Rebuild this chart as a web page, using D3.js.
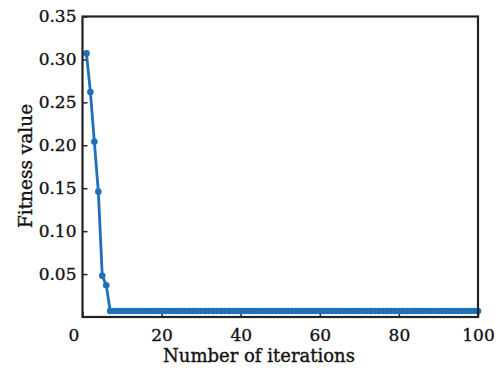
<!DOCTYPE html>
<html>
<head>
  <meta charset="UTF-8">
  <title>Fitness curve</title>
  <style>
    body { margin: 0; background: #fff; }
    svg { display: block; }
    text { font-family: "DejaVu Serif", serif; fill: #111; stroke: #111; stroke-width: 0.35px; }
  </style>
</head>
<body>
<svg></svg>
<script src="https://d3js.org/d3.v7.min.js"></script>
<script>

let width = 496, height = 373;

// iterations 1..100 and the fitness
const iterations = d3.range(1, 101);
const fitness = [
  0.307, 0.262, 0.204, 0.146, 0.048, 0.037, 0.007, 0.007, 0.007, 0.007,
  0.007, 0.007, 0.007, 0.007, 0.007, 0.007, 0.007, 0.007, 0.007, 0.007,
  0.007, 0.007, 0.007, 0.007, 0.007, 0.007, 0.007, 0.007, 0.007, 0.007,
  0.007, 0.007, 0.007, 0.007, 0.007, 0.007, 0.007, 0.007, 0.007, 0.007,
  0.007, 0.007, 0.007, 0.007, 0.007, 0.007, 0.007, 0.007, 0.007, 0.007,
  0.007, 0.007, 0.007, 0.007, 0.007, 0.007, 0.007, 0.007, 0.007, 0.007,
  0.007, 0.007, 0.007, 0.007, 0.007, 0.007, 0.007, 0.007, 0.007, 0.007,
  0.007, 0.007, 0.007, 0.007, 0.007, 0.007, 0.007, 0.007, 0.007, 0.007,
  0.007, 0.007, 0.007, 0.007, 0.007, 0.007, 0.007, 0.007, 0.007, 0.007,
  0.007, 0.007, 0.007, 0.007, 0.007, 0.007, 0.007, 0.007, 0.007, 0.007
];
const xTicks = [0, 20, 40, 60, 80, 100];
const yTicks = [0.05, 0.10, 0.15, 0.20, 0.25, 0.30, 0.35];

let data = iterations.map((it, i) => ({x: it, y: fitness[i]}));

let margin = {left: 82.5, right: 18, top: 16.5, bottom: 56};

let svg = d3.select("svg")
    .attr("width", width)
    .attr("height", height);

let x = d3.scaleLinear().domain([0, 100]).range([margin.left, width - margin.right]);
let y = d3.scaleLinear().domain([0, 0.35]).range([height - margin.bottom, margin.top]);

// axes with inward ticks
let xAxis = svg.append("g")
    .attr("transform", "translate(0," + y(0) + ")")
    .call(d3.axisBottom(x).tickValues(xTicks).tickSize(-5).tickPadding(12).tickFormat(d3.format("d")));
let yAxis = svg.append("g")
    .attr("transform", "translate(" + x(0) + ",0)")
    .call(d3.axisLeft(y).tickValues(yTicks).tickSize(-5).tickPadding(6).tickFormat(d3.format(".2f")));

[xAxis, yAxis].forEach(a => {
  a.select(".domain").remove();
  a.selectAll(".tick line").attr("stroke", "#222").attr("stroke-width", 1.5);
  a.selectAll(".tick text").style("font-size", "17px").attr("fill", "#111");
});
// the zero label sits a bit left of its tick in the original
xAxis.selectAll(".tick text").filter(d => d === 0).attr("dx", -9);

// line and markers
let color = "#1f70b8";
svg.append("path")
    .datum(data)
    .attr("fill", "none")
    .attr("stroke", color)
    .attr("stroke-width", 2.8)
    .attr("stroke-linejoin", "round")
    .attr("d", d3.line().x(d => x(d.x)).y(d => y(d.y)));

svg.append("g")
    .selectAll("circle")
    .data(data)
    .enter()
    .append("circle")
      .attr("cx", d => x(d.x))
      .attr("cy", d => y(d.y))
      .attr("r", 3.3)
      .attr("fill", color);

// box
svg.append("rect")
    .attr("x", x(0))
    .attr("y", y(0.35))
    .attr("width", x(100) - x(0))
    .attr("height", y(0) - y(0.35))
    .attr("fill", "none")
    .attr("stroke", "#222")
    .attr("stroke-width", 2.2);

// axis titles
svg.append("text")
    .attr("x", 259)
    .attr("y", 362)
    .attr("text-anchor", "middle")
    .style("font-size", "18px")
    .text("Number of iterations");

svg.append("text")
    .attr("transform", "translate(32,166) rotate(-90)")
    .attr("text-anchor", "middle")
    .style("font-size", "18.5px")
    .text("Fitness value");

</script>
</body>
</html>
